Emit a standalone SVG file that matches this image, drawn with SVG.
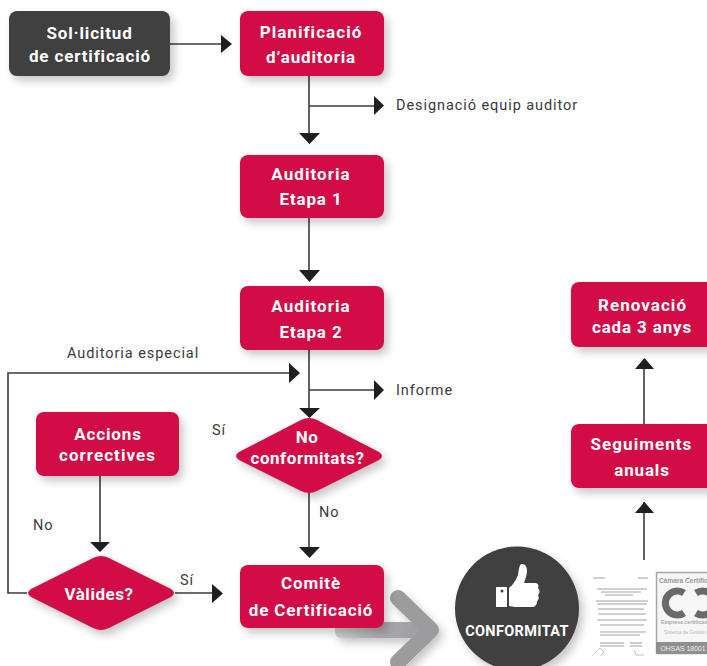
<svg xmlns="http://www.w3.org/2000/svg" width="707" height="666" viewBox="0 0 707 666">
<style>
.n{fill:#d20d45}
.d{fill:#3f3f41}
.t{font-family:Roboto,"Liberation Sans",sans-serif;font-weight:700;font-size:17px;fill:#fff;text-anchor:middle;letter-spacing:.85px}
.w{letter-spacing:1.05px}
.k{letter-spacing:.55px}
.l{font-family:Roboto,"Liberation Sans",sans-serif;font-size:14.5px;fill:#3a3a3c;letter-spacing:.93px}
.c{fill:none;stroke:#3c3c3e;stroke-width:1.6}
.a{fill:#1f1f20}
.s{filter:url(#sh)}
.dl{stroke:#a0a0a0;stroke-width:1;fill:none}
.b{font-family:"Liberation Sans",sans-serif}
</style>
<defs>
<filter id="sh" x="-20%" y="-20%" width="140%" height="150%"><feDropShadow dx="4" dy="5" stdDeviation="4" flood-color="#000" flood-opacity=".22"/></filter>
<linearGradient id="ga" x1="0" x2="1" y1="0" y2="0"><stop offset="0" stop-color="#cfcfd0"/><stop offset=".5" stop-color="#a8a8aa"/><stop offset="1" stop-color="#9c9c9e"/></linearGradient>
</defs>
<g id="connectors">
<path class="c" d="M170 44H222M309 76V134M309 106H376M309 218V271M309 350V409M309 390H376M309 493V547M100 476V543M175 593H212M27 593H8V373H291M644 424V359M644 560V502"/>
<path class="a" d="M221 35l11 9-11 9zM299 133h21l-10.500 11zM374 96l10 9.500-10 9.500zM299 270h21l-10.500 12zM289 363l11 10-11 10zM374 380l10 10-10 10zM299 408h21l-10.500 10zM299 547h21l-10.500 11zM90 542h20l-10 10zM212 584l11 9.500-11 9.500zM635 369l9.500-11 9.500 11zM635 513l9.500-11 9.500 11z"/>
</g>
<g id="arrow-big" class="s">
<rect x="335" y="622" width="96" height="16" rx="6" fill="url(#ga)"/>
<path d="M398 598L431 630L398 662" fill="none" stroke="#9c9c9e" stroke-width="16" stroke-linecap="round" stroke-linejoin="round"/>
</g>
<g id="n-sollicitud"><rect class="d s" x="9" y="11" width="161" height="65" rx="8"/><text class="t" x="89.500" y="39">Sol·licitud</text><text class="t" x="90" y="62">de certificació</text></g>
<g id="n-planificacio"><rect class="n s" x="240" y="11" width="144" height="65" rx="8"/><text class="t w" x="311" y="38">Planificació</text><text class="t" x="311" y="63">d’auditoria</text></g>
<g id="n-etapa1"><rect class="n s" x="240" y="155" width="144" height="63" rx="8"/><text class="t w" x="311" y="180">Auditoria</text><text class="t" x="311" y="205">Etapa 1</text></g>
<g id="n-etapa2"><rect class="n s" x="240" y="286" width="144" height="64" rx="8"/><text class="t w" x="311" y="312">Auditoria</text><text class="t" x="311" y="338">Etapa 2</text></g>
<g id="n-accions"><rect class="n s" x="36" y="412" width="143" height="64" rx="8"/><text class="t" x="108" y="440">Accions</text><text class="t w" x="107.500" y="461">correctives</text></g>
<g id="n-noconf"><path class="n s" d="M301 420Q309 416 317 420L379 452Q385 456 379 460L317 491Q309 495 301 491L239 460Q233 456 239 452Z"/><text class="t k" x="307" y="443">No</text><text class="t k" x="307.500" y="464">conformitats?</text></g>
<g id="n-valides"><path class="n s" d="M93 558Q101 554 109 558L171 589Q177 593 171 597L109 628Q101 632 93 628L31 597Q25 593 31 589Z"/><text class="t k" x="99" y="600">Vàlides?</text></g>
<g id="n-comite"><rect class="n s" x="240" y="565" width="144" height="63" rx="8"/><text class="t" x="311" y="588.500">Comitè</text><text class="t" x="311" y="616">de Certificació</text></g>
<g id="n-renovacio"><rect class="n s" x="571" y="282" width="145" height="65" rx="8"/><text class="t w" x="642.500" y="311">Renovació</text><text class="t" x="642" y="333">cada 3 anys</text></g>
<g id="n-seguiments"><rect class="n s" x="571" y="424" width="145" height="64" rx="8"/><text class="t w" x="641.500" y="450">Seguiments</text><text class="t" x="642" y="476">anuals</text></g>
<g id="n-conformitat">
<circle class="d s" cx="517" cy="608.500" r="62"/>
<path fill="#fff" d="M496 587h11v20h-11zM509 588c4-3 7-8 9-13c1-5 1-11 4-11c5 0 6 6 4 13l-2 6h11c3 0 4 2 3 5c2 2 2 5 0 7c1 2 1 5-1 6c0 4-2 6-5 6h-17l-6-1z"/>
<circle cx="502" cy="591" r="1.500" fill="#3f3f41"/>
<text class="t" x="517" y="636" style="font-size:14.500px;letter-spacing:.35px">CONFORMITAT</text>
</g>
<g id="certificate-doc">
<path class="dl" d="M593 578h12M638 578h10M597 589h50M601 592h40M605 595h28M596 601h52M597 604h50M598 609h46M598 614h48M597 620h50M600 625h44M600 632h46M600 635h40M600 643h24M630 643h12M600 646h24M630 646h12"/>
<path d="M594 654l6-6 4 4-3 4M634 650l2 5h8" fill="none" stroke="#c0c0c0"/>
</g>
<g id="certificate-badge">
<rect x="656.500" y="572.500" width="60" height="81" fill="#f6f6f6" stroke="#a8a8a8" stroke-width="1.500"/>
<text class="b" x="659" y="583" font-size="6.600" font-weight="700" fill="#9a9a9a">Cámara Certific</text>
<path d="M684 593a12 12 0 1 0 0 20M696 593a12 12 0 1 1 0 20" fill="none" stroke="#6a6a6a" stroke-width="7"/>
<text class="b" x="661" y="624" font-size="5.200" font-weight="700" fill="#aaa">Empresa certificad</text>
<text class="b" x="664" y="634" font-size="4.800" fill="#b8b8b8">Sistema de Gestión</text>
<rect x="656" y="642" width="60" height="12" fill="#8f8f8f"/>
<text class="b" x="660.500" y="650.500" font-size="6.900" fill="#eee">OHSAS 18001</text>
</g>
<g id="labels">
<text class="l" x="396" y="110">Designació equip auditor</text>
<text class="l" x="67" y="358">Auditoria especial</text>
<text class="l" x="396" y="395">Informe</text>
<text class="l" x="212" y="435">Sí</text>
<text class="l" x="319" y="517">No</text>
<text class="l" x="33" y="530">No</text>
<text class="l" x="180" y="585">Sí</text>
</g>
</svg>
